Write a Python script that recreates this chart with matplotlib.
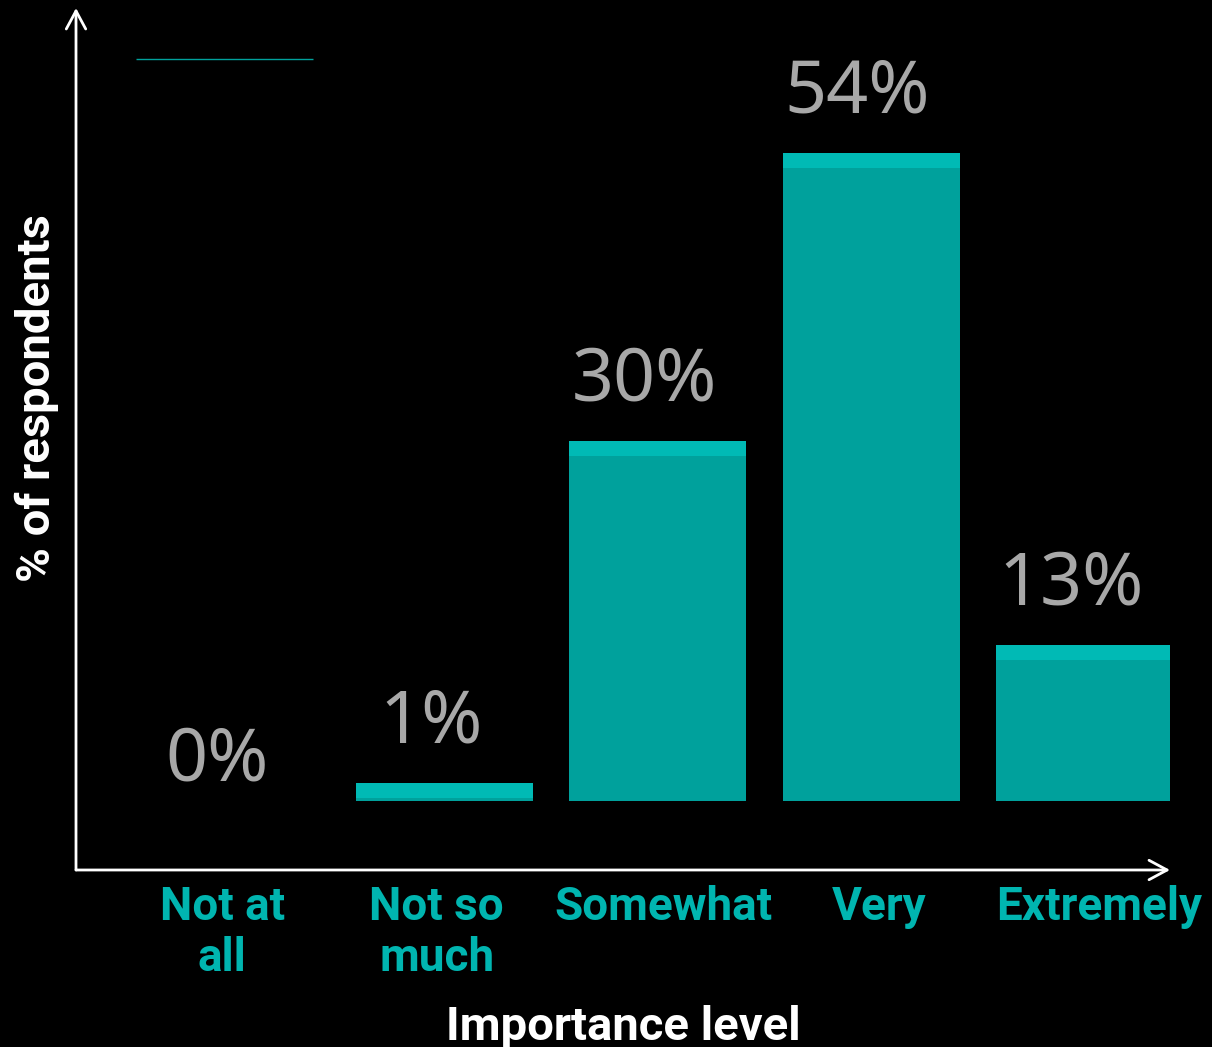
import matplotlib
matplotlib.use("Agg")
import matplotlib.pyplot as plt
import matplotlib.transforms as mtrans
import numpy as np

# data
categories = ["Not at\nall", "Not so\nmuch", "Somewhat", "Very", "Extremely"]
values = [0, 1, 30, 54, 13]

# colours
BG = "black"
BODY = "#00A19C"
CAP = "#00BAB5"
TICK = "#00B5B0"
GREY = "#A8A8A8"

plt.rcParams['font.family'] = ['Noto Sans', 'DejaVu Sans']
BOLD = ['Roboto', 'DejaVu Sans']

fig = plt.figure(figsize=(12.12, 10.47), dpi=100, facecolor=BG)
# axes box: x 76..1170 px, y 8..870 px (from top)
ax = fig.add_axes([76 / 1212, (1047 - 870) / 1047, 1094 / 1212, 862 / 1047])
ax.set_facecolor(BG)

x = np.arange(len(values))
w = 0.83
vals = np.array(values, dtype=float)

# main bars
ax.bar(x, vals, width=w, color=BODY, linewidth=0)

# lighter cap band on top of each non-zero bar
cap_h = 1.25
has = vals > 0
cap_bottom = np.maximum(vals - cap_h, 0.25)
ax.bar(x[has], cap_h, bottom=cap_bottom[has], width=w, color=CAP, linewidth=0)
tops = np.where(has, cap_bottom + cap_h, vals)

# stray thin line above the first column
ax.hlines(61.8, x[0] - w / 2 - 0.03, x[0] + w / 2 - 0.03, color=BODY, lw=1)

# value labels
for xi, v, t in zip(x, values, tops):
    dy = 29 if v > 0 else 15
    ax.annotate(f"{v}%", xy=(xi, t), xytext=(-10, dy), textcoords='offset points',
                ha='center', va='baseline', fontsize=53, color=GREY)

ax.set_xlim(-0.728, 4.401)
ax.set_ylim(-5.75, 66.08)

for s in ax.spines.values():
    s.set_visible(False)
ax.set_yticks([])
ax.set_xticks(x)
ax.set_xticklabels(categories, fontsize=33, fontweight='bold', color=TICK,
                   linespacing=1.2, family=BOLD)
ax.tick_params(axis='x', length=0, pad=11)

# tick labels sit a little off the bar centres in the original
nudges = [-9, -8, 6, 8, 15]
for lab, dx in zip(ax.get_xticklabels(), nudges):
    lab.set_transform(lab.get_transform() + mtrans.ScaledTranslation(dx / 100, 0, fig.dpi_scale_trans))

# axis arrows
arrow = dict(arrowstyle='->,head_length=0.65,head_width=0.35', color='white', lw=2,
             mutation_scale=20, shrinkA=0, shrinkB=0)
ax.annotate('', xy=(0, 1), xytext=(0, 0), xycoords='axes fraction', arrowprops=arrow,
            annotation_clip=False)
ax.annotate('', xy=(1, 0), xytext=(0, 0), xycoords='axes fraction', arrowprops=arrow,
            annotation_clip=False)

ax.set_xlabel("Importance level", fontsize=34, fontweight='bold', color='white', family=BOLD)
ax.xaxis.set_label_coords(0.5, -0.157)
ax.set_ylabel("% of respondents", fontsize=34, fontweight='bold', color='white', family=BOLD)
ax.yaxis.set_label_coords(-0.0155, 0.548)

fig.savefig("out.png", dpi=100, facecolor=BG)
